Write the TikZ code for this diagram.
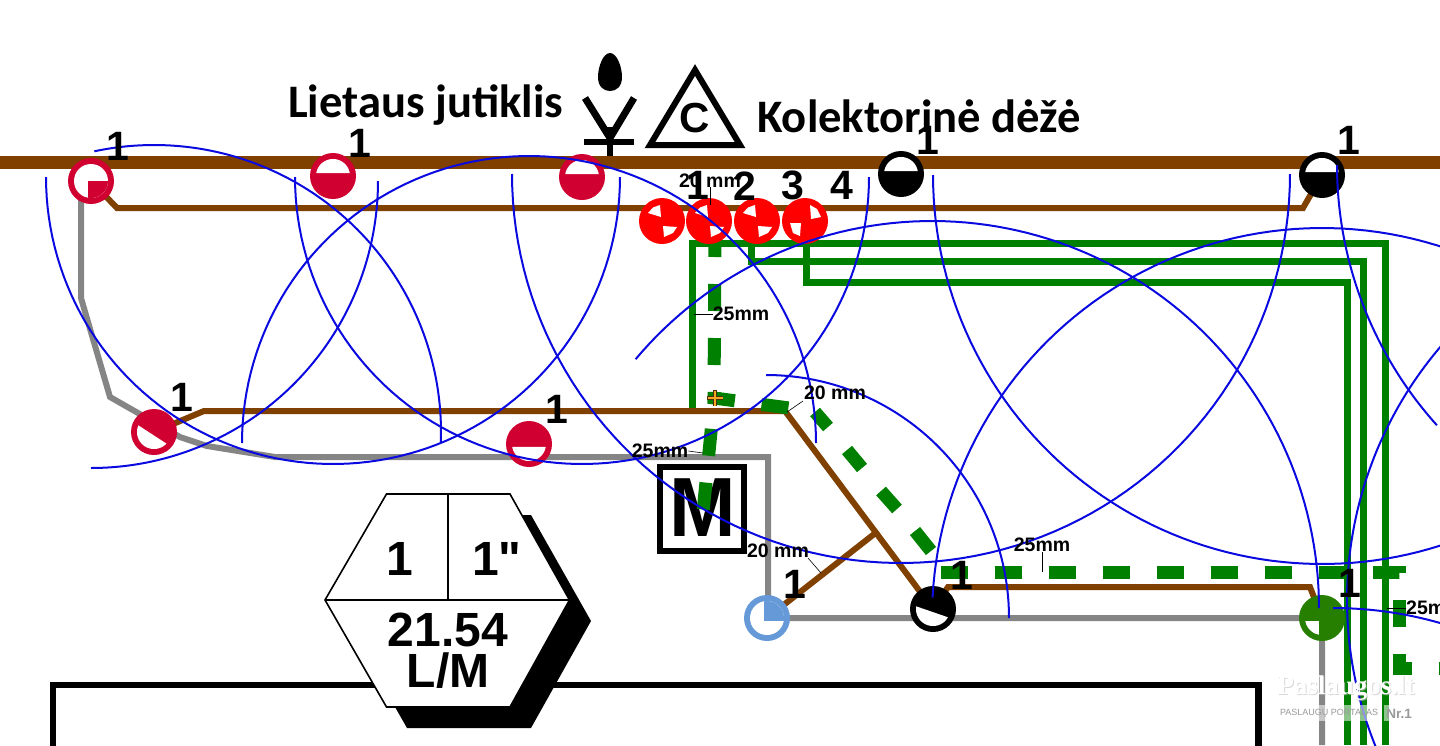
\documentclass[tikz,border=0pt]{standalone}
\usepackage{fontspec}
\usetikzlibrary{backgrounds}
\setmainfont{Liberation Sans}
\newfontfamily\calfont{Carlito}
\newfontfamily\plainsans{Liberation Sans}
\newcommand\fs[1]{\fontsize{#1}{#1}\selectfont}
\definecolor{pipebrown}{HTML}{804000}
\definecolor{pipegray}{HTML}{858585}
\definecolor{pipegreen}{HTML}{008000}
\definecolor{crim}{HTML}{D00030}
\definecolor{headgreen}{HTML}{267F00}
\definecolor{headblue}{HTML}{6699D8}
\definecolor{sprayblue}{HTML}{0A0AE0}
\definecolor{plusorange}{HTML}{F5A623}
\tikzset{
  x=1pt,y=-1pt,
  head/.style={circle,minimum size=46pt,inner sep=0pt,fill=#1,draw=none},
  mainline/.style={pipebrown,line width=13pt},
  brownpipe/.style={pipebrown,line width=6pt,line join=miter},
  graypipe/.style={pipegray,line width=6pt},
  greenpipe/.style={pipegreen,line width=7pt},
  greendash/.style={pipegreen,line width=13pt,dash pattern=on 27pt off 27pt},
  greenbar/.style={pipegreen,line width=13pt},
  spray/.style={sprayblue,line width=2pt},
  leader/.style={black,line width=0.6pt},
  num/.style={font=\bfseries\fs{41},inner sep=0pt,text=black},
  dim/.style={font=\bfseries\fs{19.5},inner sep=0pt,text=black},
  title/.style={font=\calfont\bfseries\fs{46.6},inner sep=0pt,anchor=base west,text=black},
  hexnum/.style={font=\bfseries\fs{48},inner sep=0pt,text=black},
}
\newcommand\sprayarc[5]{\draw[spray] plot[domain=#4:#5,samples=90] ({#1+#3*cos(\x)},{#2-#3*sin(\x)});}
% white circular segment on a head: node, direction of the segment (degrees, counter-clockwise from east)
\newcommand\headseg[2]{\begin{scope}[shift={(#1.center)}]
  \pgfmathsetmacro\ala{#2-80}\pgfmathsetmacro\alb{#2+80}
  \fill[white] plot[domain=\ala:\alb,samples=40] ({17*cos(\x)},{-17*sin(\x)}) -- cycle;
\end{scope}}
% ring with a filled quadrant: node, colour, rectangle corners
\newcommand\headring[6]{\begin{scope}[shift={(#1.center)}]
  \fill[white] (0,0) circle (17);
  \begin{scope}\clip (0,0) circle (17); \fill[#2] (#3,#4) rectangle (#5,#6);\end{scope}
\end{scope}}
\newcommand\valvea[1]{\begin{scope}[shift={(#1.center)}]
  \fill[white] (-14,-8) -- (-9,-13.5) -- (-2,-16) -- (-1,-4) -- cycle;
  \fill[white] (1,5) -- (15,6) -- (11,12) -- (2,16) -- cycle;
\end{scope}}
\newcommand\valveb[1]{\begin{scope}[shift={(#1.center)}]
  \fill[white] (5,-16) -- (12,-12) -- (16,-4) -- (6,-2) -- cycle;
  \fill[white] (-15,2) -- (-4,2) -- (-5,15) -- (-12,12) -- cycle;
\end{scope}}
\begin{document}
\begin{tikzpicture}
\path[use as bounding box] (0,0) rectangle (1440,745);

% sprinkler heads
\node[head=crim] (hA) at (91,181) {};
\node[head=crim] (hB) at (333,176) {};
\node[head=crim] (hC) at (582,177) {};
\node[head=black] (hD) at (901,174) {};
\node[head=black] (hE) at (1322,175) {};
\node[head=crim] (hF) at (154,432) {};
\node[head=crim] (hG) at (529,444) {};
\node[head=black] (hH) at (933,609) {};
\node[head=headblue] (hJ) at (767,618) {};
\node[head=headgreen] (hK) at (1322,618) {};
\headring{hA}{crim}{-3}{0}{20}{20}
\headseg{hB}{90}
\headseg{hC}{90}
\headseg{hD}{90}
\headseg{hE}{90}
\headseg{hF}{237}
\headseg{hG}{270}
\headseg{hH}{251}
\headring{hJ}{headblue}{-3}{-20}{20}{3}
\begin{scope}[shift={(hK.center)}]
  \clip (0,0) circle (17);
  \fill[white] (-20,3) rectangle (-3,20);
\end{scope}
% valves
\node[head=red] (v1) at (662,221) {};
\node[head=red] (v2) at (709,221) {};
\node[head=red] (v3) at (757,221) {};
\node[head=red] (v4) at (805,221) {};
\valvea{v1}
\valvea{v2}
\valvea{v3}
\valveb{v4}

\coordinate (mainL) at (0,162);
\coordinate (mainR) at (1440,162);
\coordinate (bA) at (117,208);
\coordinate (bB) at (1303,208);
\coordinate (bC) at (204,411);
\coordinate (bD) at (785,411);
\coordinate (bE) at (878,531);
\coordinate (bF) at (948,587);
\coordinate (bG) at (1310,587);
\coordinate (dashCorner) at (714,398);

\begin{scope}[on background layer]
  % solid green pipes
  \draw[greenpipe] (692,411) -- (692,243) -- (1385,243) -- (1385,745);
  \draw[greenpipe] (751,243) -- (751,261) -- (1363,261) -- (1363,745);
  \draw[greenpipe] (806,243) -- (806,282) -- (1347,282) -- (1347,745);
  % main brown
  \draw[mainline] (mainL) -- (mainR);
  % grey
  \draw[graypipe] (81,181) -- (81,298) -- (110,397) -- (180,437) -- (207,446) -- (275,457) -- (768,457) -- (768,618) -- (hK.center) -- (1322,745);
  % thin brown
  \draw[brownpipe] (hA.center) -- (bA) -- (bB) -- (hE.center);
  \draw[brownpipe] (hF.center) -- (bC) -- (bD) -- (hH.center);
  \draw[brownpipe] (bE) -- (hJ.center);
  \draw[brownpipe] (hH.center) -- (bF) -- (bG) -- (hK.center);
  % big rectangle
  \draw[black,line width=6.5pt] (53,760) -- (53,685) -- (1258.5,685) -- (1258.5,760);
  % hexagon
  \fill[black] (407,515) -- (531,515) -- (591,621) -- (531,728) -- (407,728) -- (346,621) -- cycle;
  \draw[black,fill=white,line width=1.6pt,line join=miter] (386.5,494) -- (510,494) -- (569.5,600) coordinate (hxr) -- (510,707) -- (386.5,707) -- (325,600) coordinate (hxl) -- cycle;
  \draw[black,line width=1.6pt] (hxl) -- (hxr) (448,494) -- (448,600);
  % M box
  \node[draw=black,fill=white,line width=6.5pt,minimum size=84pt,inner sep=0pt] (mbox) at (702,509) {};
  \node[font=\bfseries\fs{84},inner sep=0pt] (mtext) at (702.5,508) {\scalebox{0.95}[1]{M}};
  % green dashed
  \draw[greendash] (715,230) -- (dashCorner) -- (789,408);
  \draw[greenbar] (815,412) -- (828,427);
  \draw[greenbar] (847,450) -- (862,468);
  \draw[greenbar] (881,491) -- (897,509);
  \draw[greenbar] (915,531) -- (931,551);
  \draw[greendash,dash phase=27pt] (714,402) -- (703,512);
  \draw[greendash] (941,572) -- (1399,572) -- (1399,668) -- (1470,668);
\end{scope}

% orange plus
\draw[black!70!plusorange,line width=4pt] (707,398) -- (723,398) (715,390) -- (715,406);
\draw[plusorange,line width=2.6pt] (707.5,398) -- (722.5,398) (715,390.5) -- (715,405.5);

% spray arcs
\begin{scope}
  \clip (0,0) rectangle (1440,745);
  \sprayarc{154}{432}{287}{-2}{102}
  \sprayarc{91}{181}{287}{-90}{0}
  \sprayarc{333}{177}{287}{180}{360}
  \sprayarc{582}{177}{287}{180}{360}
  \sprayarc{529}{443}{287}{0}{180}
  \sprayarc{901}{174}{389}{180}{360}
  \sprayarc{1322}{175}{389}{180}{330}
  \sprayarc{932}{608}{387}{0}{140}
  \sprayarc{1322}{618}{390}{20}{177}
  \sprayarc{766}{618}{243}{0}{90}
  \sprayarc{1726}{165}{389}{180}{222}
  \sprayarc{1737}{600}{390}{130}{205}
  \sprayarc{1333}{998}{390}{70}{90}
\end{scope}

% rain sensor
\fill[black] (610,53) .. controls (617,53) and (622,67) .. (622,77) .. controls (622,87) and (616,91) .. (610,91) .. controls (604,91) and (598,87) .. (598,77) .. controls (598,67) and (603,53) .. (610,53) -- cycle;
\draw[black,line width=7pt] (585,98) -- (610,138) -- (634,98);
\draw[black,line width=6.5pt] (584,142) -- (634,142);
\draw[black,line width=6pt] (610,127) -- (610,156);
% collector triangle
\draw[black,line width=6pt,line join=miter] (695,70) -- (740,145) -- (650,145) -- cycle;
\node[font=\bfseries\fs{42},inner sep=0pt] (ctext) at (695,118) {C};

% titles
\node[title] (tRain) at (288,117) {Lietaus jutiklis};
\node[title] (tBox) at (757,132) {Kolektorinė dėžė};

% numbers
\node[num] (n1) at (118,146) {1};
\node[num] (n2) at (360,143) {1};
\node[num] (n3) at (928,140) {1};
\node[num] (n4) at (1349,140) {1};
\node[num] (n5) at (182,397) {1};
\node[num] (n6) at (557,409) {1};
\node[num] (n7) at (795,584) {1};
\node[num] (n8) at (962,575) {1};
\node[num] (n9) at (1350,583) {1};
\node[num] (k1) at (698,185) {1};
\node[num] (k2) at (745,186) {2};
\node[num] (k3) at (793,185) {3};
\node[num] (k4) at (842,185) {4};

% dimension labels
\node[dim] (d1) at (710,181) {20 mm};
\node[dim] (d2) at (741,314) {25mm};
\node[dim] (d3) at (835,393) {20 mm};
\node[dim] (d4) at (660,451) {25mm};
\node[dim] (d5) at (778,551) {20 mm};
\node[dim] (d6) at (1042,545) {25mm};
\node[dim,anchor=west] (d7) at (1406,608) {25mm};
\coordinate (e1) at (710,205);
\coordinate (e2) at (694,314);
\coordinate (e3) at (787,412);
\coordinate (e4) at (703,453);
\coordinate (e5) at (821,573);
\coordinate (e6) at (1042,572);
\coordinate (e7) at (1387,608);
\draw[leader] (710,187) -- (e1);
\draw[leader] (d2.west) -- (e2);
\draw[leader] (803,401) -- (e3);
\draw[leader] (d4.east) -- (e4);
\draw[leader] (808,558) -- (e5);
\draw[leader] (d6.south) -- (e6);
\draw[leader] (d7.west) -- (e7);

% hexagon texts
\node[hexnum] (x1) at (400,559) {1};
\node[hexnum] (x2) at (497,559) {\plainsans\bfseries 1"};
\node[hexnum] (x3) at (448,630) {21.54};
\node[hexnum] (x4) at (448,671) {L/M};

% watermark
\fill[white,opacity=0.55] (1277,705) rectangle (1382,721);
\fill[white,opacity=0.55] (1384,705) rectangle (1414,721);
\node[font=\fs{9},text=black!40,inner sep=0pt] (w2) at (1329,713.5) {PASLAUGŲ PORTALAS};
\node[font=\bfseries\fs{13.5},text=black!40,inner sep=0pt] (w3) at (1399,713.5) {Nr.1};
\node[font=\fontspec{Liberation Serif}\bfseries\fs{27},text=black!25,opacity=0.6,inner sep=0pt] at (1347,689) {Paslaugos.lt};
\node[font=\fontspec{Liberation Serif}\bfseries\fs{27},text=white,inner sep=0pt] (w1) at (1346,688) {Paslaugos.lt};
\end{tikzpicture}
\end{document}
